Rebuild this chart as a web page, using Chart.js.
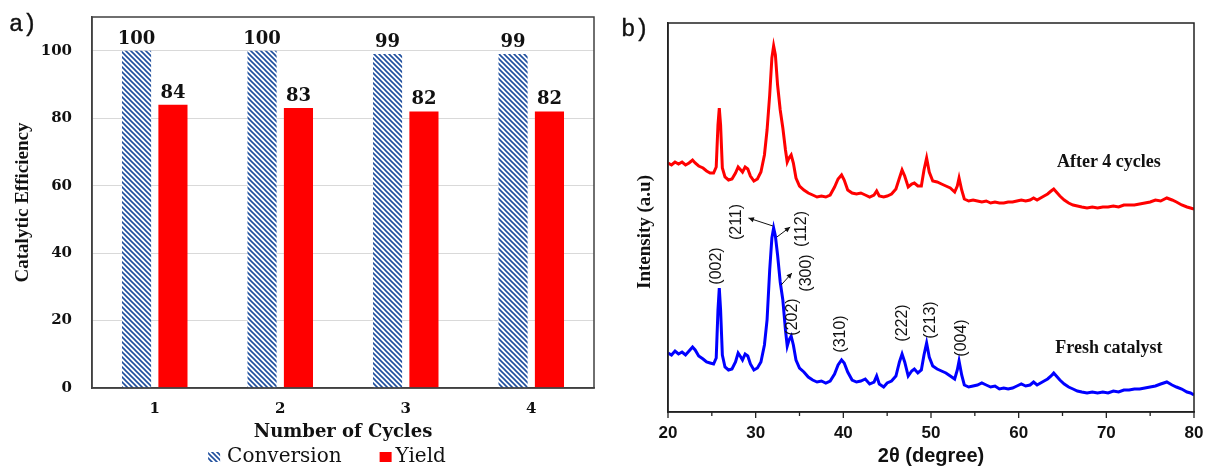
<!DOCTYPE html>
<html><head><meta charset="utf-8">
<script src="https://cdn.jsdelivr.net/npm/chart.js@4/dist/chart.umd.min.js"></script>
<style>
html,body{margin:0;padding:0;background:#fff;width:1206px;height:468px;overflow:hidden;}
#wa{position:absolute;left:0;top:0;width:606px;height:468px;}
#wb{position:absolute;left:606px;top:0;width:600px;height:468px;}
.pl{position:absolute;font-family:"Liberation Mono",monospace;font-size:24px;line-height:24px;color:#111;letter-spacing:-1px;-webkit-text-stroke:0.4px #111;}
</style></head><body>
<div id="wa"><canvas id="ca"></canvas></div>
<div id="wb"><canvas id="cb"></canvas></div>
<div class="pl" style="left:9px;top:13px">a)</div>
<div class="pl" style="left:621px;top:18px">b)</div>
<script>
// ---------- Panel a data ----------
const cycles = ['1', '2', '3', '4'];
const conversion = [100, 100, 99, 99];
const yieldValues = [84, 83, 82, 82];
const yTicksA = [0, 20, 40, 60, 80, 100];

// ---------- Panel b data ----------
const twoTheta = [20.0,20.4,20.8,21.2,21.6,22.0,22.4,22.8,23.1,23.5,24.0,24.4,24.8,25.2,25.5,25.7,25.85,26.0,26.2,26.5,26.9,27.3,27.7,28.0,28.3,28.5,28.8,29.1,29.4,29.8,30.2,30.6,31.0,31.3,31.6,31.85,32.05,32.25,32.5,32.8,33.1,33.4,33.6,33.8,34.05,34.3,34.6,35.0,35.5,36.0,36.5,37.0,37.5,38.0,38.5,39.0,39.4,39.8,40.1,40.5,41.0,41.5,42.0,42.5,43.0,43.5,43.8,44.1,44.6,45.0,45.5,46.0,46.4,46.7,47.0,47.4,47.8,48.1,48.5,48.9,49.2,49.5,49.8,50.2,50.7,51.2,51.7,52.2,52.7,53.0,53.2,53.5,53.8,54.3,54.8,55.3,55.8,56.3,56.8,57.3,57.8,58.3,58.8,59.3,59.8,60.3,60.8,61.3,61.7,62.1,62.5,62.9,63.3,63.7,64.0,64.3,64.7,65.2,65.7,66.2,66.7,67.2,67.8,68.4,69.0,69.6,70.2,70.8,71.4,72.0,72.6,73.2,73.8,74.4,75.0,75.6,76.2,76.9,77.5,78.0,78.6,79.2,79.6,80.0];
const freshIntensity = [59,57,61,58,60,57,61,65,62,56,53,50,49,48,54,102,124,102,57,45,42,43,50,59,55,52,58,56,48,42,44,50,67,92,142,174,184,176,157,130,112,82,66,72,76,67,52,44,40,35,32,30,31,29,31,38,47,52,49,40,32,30,31,33,28,30,36,28,25,29,31,36,50,58,50,36,41,43,39,42,57,69,55,46,43,41,39,36,33,42,51,37,27,25,26,27,29,27,25,26,23,24,23,24,26,28,26,27,30,27,29,31,33,36,39,36,32,28,25,23,21,20,19,20,19,20,19,21,20,22,22,23,23,24,25,26,28,30,27,25,23,20,19,17];
const afterIntensity = [249,247,250,248,250,247,249,252,249,246,244,241,239,239,245,287,304,287,244,235,232,233,239,245,242,240,245,243,236,231,233,240,257,282,317,354,366,357,327,302,284,262,250,254,257,249,234,226,222,219,217,215,216,215,217,225,233,237,232,222,219,218,219,217,215,217,221,216,215,216,218,223,234,242,236,225,228,229,226,226,242,254,240,231,230,228,226,224,220,226,234,222,213,211,212,211,210,211,209,210,209,209,210,210,211,212,211,212,214,212,214,216,218,221,223,220,216,212,209,207,206,205,204,205,204,205,205,206,205,207,207,207,208,209,210,212,211,214,212,210,207,205,204,203];
const peakLabels = ['(002)', '(211)', '(112)', '(300)', '(202)', '(310)', '(222)', '(213)', '(004)'];
const peakLabelTheta = [25.6, 27.77, 35.2, 35.77, 34.17, 39.66, 46.74, 49.94, 53.49];
const peakLabelIntensity = [146, 190, 183, 139, 95, 78, 89, 92, 74];
const arrowFromTheta = [31.97, 32.42, 32.91];
const arrowFromIntensity = [186, 175, 127];
const arrowToTheta = [29.18, 33.94, 34.14];
const arrowToIntensity = [194, 185, 139];
const seriesNames = ['After 4 cycles', 'Fresh catalyst'];
const seriesNameTheta = [70.29, 70.29];
const seriesNameIntensity = [250, 64];

// ---------- hatch pattern ----------
function makeHatch() {
  const n = 5;
  const c = document.createElement('canvas');
  c.width = n; c.height = n;
  const x = c.getContext('2d');
  x.fillStyle = '#ffffff'; x.fillRect(0, 0, n, n);
  x.strokeStyle = '#1f4f9e'; x.lineWidth = 1.6;
  x.beginPath();
  x.moveTo(-1, -1); x.lineTo(n + 1, n + 1);
  x.moveTo(-1, n - 1); x.lineTo(1, n + 1);
  x.moveTo(n - 1, -1); x.lineTo(n + 1, 1);
  x.stroke();
  return x.createPattern(c, 'repeat');
}
const hatch = makeHatch();

// ---------- Panel a ----------
const panelAPlugin = {
  id: 'panelA',
  afterDraw(chart) {
    const ctx = chart.ctx, a = chart.chartArea;
    ctx.save();
    ctx.strokeStyle = '#404040'; ctx.lineWidth = 1.5;
    ctx.strokeRect(a.left, a.top, a.right - a.left, a.bottom - a.top);
    ctx.fillStyle = '#111';
    ctx.font = 'bold 18px "DejaVu Serif"';
    ctx.textAlign = 'center'; ctx.textBaseline = 'alphabetic';
    chart.data.datasets.forEach((ds, di) => {
      chart.getDatasetMeta(di).data.forEach((bar, i) => {
        ctx.fillText(String(ds.data[i]), bar.x, bar.y - 7);
      });
    });
    // legend
    const cx = (a.left + a.right) / 2;
    const ly = 462;
    ctx.font = '20px "DejaVu Serif"';
    ctx.textAlign = 'left';
    const w1 = ctx.measureText(chart.data.datasets[0].label).width;
    const w2 = ctx.measureText(chart.data.datasets[1].label).width;
    const total = 12 + 7 + w1 + 38 + 12 + 4 + w2;
    let x0 = cx - total / 2 - 16;
    ctx.fillStyle = hatch;
    ctx.fillRect(x0, ly - 10, 12, 10);
    ctx.fillStyle = '#111';
    ctx.fillText(chart.data.datasets[0].label, x0 + 19, ly);
    let x1 = x0 + 19 + w1 + 38;
    ctx.fillStyle = '#ff0000';
    ctx.fillRect(x1, ly - 10, 12, 10);
    ctx.fillStyle = '#111';
    ctx.fillText(chart.data.datasets[1].label, x1 + 16, ly);
    ctx.restore();
  }
};

new Chart(document.getElementById('ca'), {
  type: 'bar',
  data: {
    labels: cycles,
    datasets: [
      { label: 'Conversion', data: conversion, backgroundColor: hatch, borderWidth: 0, categoryPercentage: 0.58, barPercentage: 0.8 },
      { label: 'Yield', data: yieldValues, backgroundColor: '#ff0000', borderWidth: 0, categoryPercentage: 0.58, barPercentage: 0.8 }
    ]
  },
  options: {
    responsive: true, maintainAspectRatio: false, animation: false,
    layout: { padding: { top: 17, right: 12, left: 0, bottom: 0 } },
    plugins: { legend: { display: false }, tooltip: { enabled: false } },
    scales: {
      x: {
        grid: { display: false, drawTicks: false },
        border: { display: true, color: '#404040', width: 1.5 },
        ticks: { font: { family: 'DejaVu Serif', weight: 'bold', size: 15 }, color: '#111', padding: 12 },
        title: { display: true, text: 'Number of Cycles', color: '#111', font: { family: 'DejaVu Serif', weight: 'bold', size: 18 }, padding: { top: 0, bottom: 25 } },
        afterFit: s => { s.height = 80; s.paddingLeft = 0; s.paddingRight = 0; }
      },
      y: {
        min: 0, max: 110,
        afterBuildTicks: s => { s.ticks = yTicksA.map(v => ({ value: v })); },
        grid: { color: '#d9d9d9', lineWidth: 1, drawTicks: false },
        border: { display: true, color: '#404040', width: 1.5 },
        ticks: { font: { family: 'DejaVu Serif', weight: 'bold', size: 15 }, color: '#111', padding: 20 },
        title: { display: true, text: 'Catalytic Efficiency', color: '#111', font: { family: 'Liberation Serif', weight: 'bold', size: 19 }, padding: { top: 12, bottom: 0 } },
        afterFit: s => { s.width = 92; s.paddingTop = 0; s.paddingBottom = 0; }
      }
    }
  },
  plugins: [panelAPlugin]
});

// ---------- Panel b ----------
function arrow(ctx, x1, y1, x2, y2) {
  ctx.beginPath(); ctx.moveTo(x1, y1); ctx.lineTo(x2, y2); ctx.stroke();
  const ang = Math.atan2(y2 - y1, x2 - x1), L = 6, W = 0.45;
  ctx.beginPath();
  ctx.moveTo(x2, y2);
  ctx.lineTo(x2 - L * Math.cos(ang - W), y2 - L * Math.sin(ang - W));
  ctx.lineTo(x2 - L * Math.cos(ang + W), y2 - L * Math.sin(ang + W));
  ctx.closePath(); ctx.fill();
}
const panelBPlugin = {
  id: 'panelB',
  afterDraw(chart) {
    const ctx = chart.ctx, a = chart.chartArea;
    const xs = chart.scales.x, ys = chart.scales.y;
    ctx.save();
    ctx.strokeStyle = '#222'; ctx.lineWidth = 1.5;
    ctx.strokeRect(a.left, a.top, a.right - a.left, a.bottom - a.top);
    ctx.lineWidth = 1.3;
    for (let v = 20; v <= 80; v += 5) {
      const px = xs.getPixelForValue(v);
      const len = (v % 10 === 0) ? 6 : 4;
      ctx.beginPath(); ctx.moveTo(px, a.bottom); ctx.lineTo(px, a.bottom + len); ctx.stroke();
    }
    ctx.fillStyle = '#111';
    ctx.font = '16px "Liberation Sans"';
    ctx.textAlign = 'center'; ctx.textBaseline = 'middle';
    peakLabels.forEach((t, i) => {
      const px = xs.getPixelForValue(peakLabelTheta[i]);
      const py = ys.getPixelForValue(peakLabelIntensity[i]);
      ctx.save(); ctx.translate(px, py); ctx.rotate(-Math.PI / 2);
      ctx.fillText(t, 0, 0); ctx.restore();
    });
    ctx.strokeStyle = '#111'; ctx.fillStyle = '#111'; ctx.lineWidth = 1;
    arrowFromTheta.forEach((t, i) => {
      arrow(ctx, xs.getPixelForValue(t), ys.getPixelForValue(arrowFromIntensity[i]),
        xs.getPixelForValue(arrowToTheta[i]), ys.getPixelForValue(arrowToIntensity[i]));
    });
    ctx.font = 'bold 18px "Liberation Serif"';
    seriesNames.forEach((t, i) => {
      ctx.fillText(t, xs.getPixelForValue(seriesNameTheta[i]), ys.getPixelForValue(seriesNameIntensity[i]));
    });
    ctx.font = 'bold 19px "Liberation Serif"';
    ctx.save(); ctx.translate(39, 232); ctx.rotate(-Math.PI / 2);
    ctx.fillText('Intensity (a.u)', 0, 0); ctx.restore();
    ctx.restore();
  }
};

new Chart(document.getElementById('cb'), {
  type: 'line',
  data: {
    datasets: [
      { label: 'After 4 cycles', data: twoTheta.map((t, i) => ({ x: t, y: afterIntensity[i] })), borderColor: '#ff0000', borderWidth: 3, pointRadius: 0, tension: 0, fill: false },
      { label: 'Fresh catalyst', data: twoTheta.map((t, i) => ({ x: t, y: freshIntensity[i] })), borderColor: '#0000ff', borderWidth: 3, pointRadius: 0, tension: 0, fill: false }
    ]
  },
  options: {
    responsive: true, maintainAspectRatio: false, animation: false,
    layout: { padding: { top: 23, right: 12, left: 0, bottom: 0 } },
    plugins: { legend: { display: false }, tooltip: { enabled: false } },
    scales: {
      x: {
        type: 'linear', min: 20, max: 80,
        ticks: { stepSize: 10, font: { family: 'Liberation Sans', weight: 'bold', size: 17 }, color: '#111', padding: 11 },
        grid: { display: false, drawTicks: false },
        border: { display: true, color: '#222', width: 1.5 },
        title: { display: true, text: '2θ (degree)', color: '#111', font: { family: 'Liberation Sans', weight: 'bold', size: 20 }, padding: { top: 0, bottom: 0 } },
        afterFit: s => { s.height = 56; s.paddingLeft = 0; s.paddingRight = 0; }
      },
      y: {
        min: 0, max: 389,
        ticks: { display: false },
        grid: { display: false, drawTicks: false },
        border: { display: true, color: '#222', width: 1.5 },
        afterFit: s => { s.width = 62; s.paddingTop = 0; s.paddingBottom = 0; }
      }
    }
  },
  plugins: [panelBPlugin]
});
</script></body></html>
